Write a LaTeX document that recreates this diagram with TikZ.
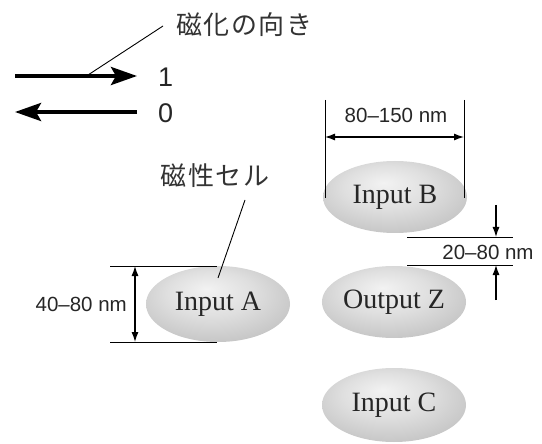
\documentclass[tikz,border=0pt]{standalone}
\usepackage{fontspec}
\setmainfont{Liberation Serif}
\setsansfont{Liberation Sans}
\newfontfamily\jp[LetterSpace=6]{Noto Sans CJK JP}
\usetikzlibrary{shapes.geometric,arrows.meta}
\pgfdeclareradialshading{cellshade}{\pgfpoint{-4bp}{10bp}}{color(0bp)=(gray!10); color(15bp)=(gray!25); color(35bp)=(gray!52); color(50bp)=(gray!72)}
\begin{document}
\begin{tikzpicture}[x=1pt,y=-1pt,
  cell/.style={ellipse, minimum width=144pt, minimum height=72pt, inner sep=0pt,
    shading=cellshade, text=black!85, font=\fontsize{28}{28}\selectfont},
  dim/.style={font=\sffamily\fontsize{20.5}{20.5}\selectfont, inner sep=1pt, text=black!85},
  jlabel/.style={font=\jp\fontsize{26}{26}\selectfont, inner sep=0pt, text=black!80},
  num/.style={font=\sffamily\fontsize{27}{27}\selectfont, inner sep=0pt, text=black!85},
  thinline/.style={line width=0.9pt},
  dimarr/.style={line width=1.2pt, -{Latex[length=10pt,width=7pt]}},
  dimarrs/.style={line width=1.2pt, {Latex[length=10pt,width=7pt]}-{Latex[length=10pt,width=7pt]}},
  bigarr/.style={line width=4pt, -{Stealth[length=26pt,width=18pt,inset=5pt]}}]
\useasboundingbox (0,0) rectangle (542,444);

% magnetization direction legend
\coordinate (r1) at (15,76);
\coordinate (r2) at (137,76);
\coordinate (l1) at (137,112);
\coordinate (l2) at (15,112);
\draw[bigarr] (r1) -- (r2);
\draw[bigarr] (l1) -- (l2);
\node[num, anchor=west] (one) at (158,77) {1};
\node[num, anchor=west] (zero) at (158,113) {0};
\node[jlabel, anchor=west] (dir) at (176,25) {磁化の向き};
\coordinate (dirfoot) at (88,75);
\coordinate (dirtop) at (163,26);
\draw[thinline] (dirfoot) -- (dirtop);

% cells
\node[cell] (B) at (395,197) {Input B};
\node[cell] (Z) at (394,302) {Output Z};
\node[cell, minimum height=74pt] (C) at (394,405) {Input C};
\node[cell, minimum height=76pt] (A) at (218,304) {Input A};

% width dimension of B
\coordinate (bw1t) at (325,100);
\coordinate (bw1b) at (325,198);
\coordinate (bw2t) at (464,100);
\coordinate (bw2b) at (464,198);
\draw[thinline] (bw1t) -- (bw1b);
\draw[thinline] (bw2t) -- (bw2b);
\coordinate (bwa) at (325,137);
\coordinate (bwb) at (464,137);
\draw[dimarrs] (bwa) -- (bwb);
\node[dim] (bwl) at (396,115) {80\textendash150 nm};

% gap dimension
\coordinate (g1a) at (407,237);
\coordinate (g1b) at (513,237);
\coordinate (g2a) at (407,265);
\coordinate (g2b) at (513,265);
\draw[thinline] (g1a) -- (g1b);
\draw[thinline] (g2a) -- (g2b);
\coordinate (ga0) at (496,205);
\coordinate (ga1) at (496,237);
\coordinate (gb0) at (496,300);
\coordinate (gb1) at (496,265);
\draw[dimarr] (ga0) -- (ga1);
\draw[dimarr] (gb0) -- (gb1);
\node[dim] (gl) at (488,252) {20\textendash80 nm};

% height dimension of A
\coordinate (ah1a) at (110,266);
\coordinate (ah1b) at (217,266);
\coordinate (ah2a) at (110,342);
\coordinate (ah2b) at (217,342);
\draw[thinline] (ah1a) -- (ah1b);
\draw[thinline] (ah2a) -- (ah2b);
\coordinate (aha) at (135,266);
\coordinate (ahb) at (135,342);
\draw[dimarrs] (aha) -- (ahb);
\node[dim, anchor=east] (ahl) at (128,304) {40\textendash80 nm};

% magnetic cell label
\node[jlabel] (cellname) at (215,176) {磁性セル};
\coordinate (cn1) at (245,200);
\coordinate (cn2) at (218,278);
\draw[thinline] (cn1) -- (cn2);
\end{tikzpicture}
\end{document}
